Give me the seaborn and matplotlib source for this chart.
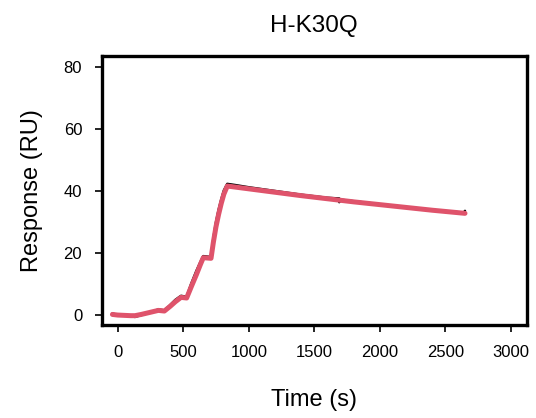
import matplotlib
matplotlib.use("Agg")
import matplotlib.pyplot as plt
import seaborn as sns
import pandas as pd

# Single-cycle kinetics sensorgram: measured response and fitted model
time_obs = [-40, 0, 50, 100, 132, 180, 230, 280, 310, 356, 400, 440, 483, 526,
            560, 600, 630, 653, 712, 730, 750, 770, 790, 810, 836, 900, 1000,
            1200, 1400, 1600, 1690, 1690, 1700, 1900, 2100, 2300, 2500, 2640, 2649]
resp_obs = [0.5, 0.0, -0.2, -0.3, -0.6, 0.0, 0.6, 1.3, 1.8, 1.5, 3.2, 4.9, 6.2, 5.9,
            10.0, 14.2, 17.0, 19.0, 18.7, 24.8, 30.0, 34.0, 37.3, 40.2, 42.3, 41.9, 41.2,
            40.0, 38.8, 37.8, 37.6, 36.4, 37.2, 36.2, 35.2, 34.3, 33.5, 33.0, 33.6]

time_fit = [-40, 0, 50, 100, 132, 180, 230, 280, 310, 356, 400, 440, 483, 526,
            560, 600, 630, 653, 712, 730, 750, 770, 790, 810, 836, 1000, 1200,
            1400, 1600, 1800, 2000, 2200, 2400, 2649]
resp_fit = [0.2, 0.0, -0.1, -0.2, -0.2, 0.2, 0.7, 1.2, 1.5, 1.3, 2.8, 4.3, 5.7, 5.5,
            9.0, 13.0, 16.2, 18.5, 18.3, 23.5, 28.5, 32.5, 36.0, 39.0, 41.6, 40.7, 39.6,
            38.5, 37.5, 36.5, 35.6, 34.7, 33.8, 32.8]

x_ticks = [0, 500, 1000, 1500, 2000, 2500, 3000]
y_ticks = [0, 20, 40, 60, 80]

obs = pd.DataFrame({"Time (s)": time_obs, "Response (RU)": resp_obs})
fit = pd.DataFrame({"Time (s)": time_fit, "Response (RU)": resp_fit})

sns.set_style("white")
plt.rcParams["font.family"] = ["Liberation Sans", "DejaVu Sans"]
plt.rcParams["text.color"] = "black"
plt.rcParams["axes.labelcolor"] = "black"

fig = plt.figure(figsize=(5.36, 4.18), dpi=100)
ax = fig.add_axes([0.1897, 0.2218, 0.793, 0.644])

sns.lineplot(data=obs, x="Time (s)", y="Response (RU)", ax=ax, color="black",
             linewidth=1.8, sort=False, estimator=None, zorder=2)
sns.lineplot(data=fit, x="Time (s)", y="Response (RU)", ax=ax, color="#DF536B",
             linewidth=3.6, sort=False, estimator=None, zorder=3)

ax.set_xlim(-122, 3120)
ax.set_ylim(-3.3, 83.5)
ax.set_xticks(x_ticks)
ax.set_yticks(y_ticks)
ax.tick_params(axis="both", direction="out", length=5, width=1.2, pad=9,
               labelsize=12, color="black", labelcolor="black",
               bottom=True, left=True)
for s in ax.spines.values():
    s.set_visible(True)
    s.set_color("black")
    s.set_linewidth(2.4)

ax.set_xlabel("Time (s)", fontsize=17, labelpad=21, color="black")
ax.set_ylabel("Response (RU)", fontsize=17, labelpad=15, color="black")
ax.set_title("H-K30Q", fontsize=17.5, pad=17, color="black")

fig.savefig("out.png", dpi=100)
